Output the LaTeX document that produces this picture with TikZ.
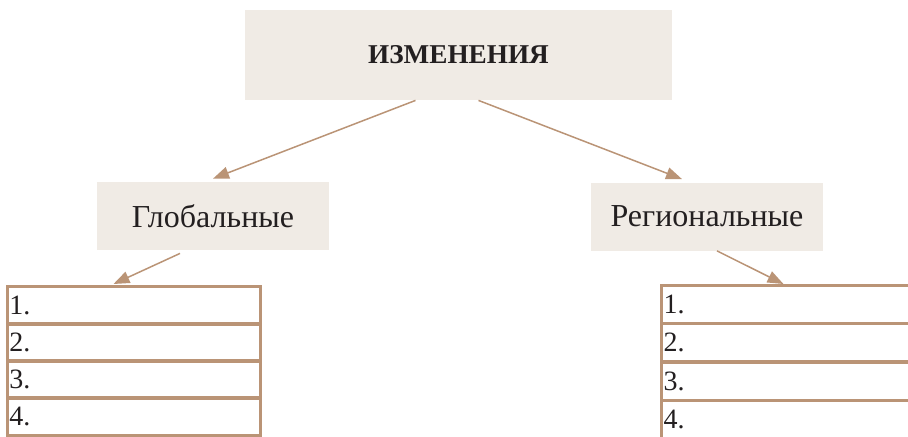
\documentclass[tikz,border=0pt]{standalone}
\usepackage{fontspec}
\setmainfont{Liberation Serif}
\usepackage{tikz}
\usetikzlibrary{arrows.meta,calc}
\usepackage{xcolor}
\definecolor{boxbeige}{RGB}{240,235,229}
\definecolor{linebrown}{RGB}{186,148,118}
\definecolor{textblack}{RGB}{35,31,32}

\begin{document}
\begin{tikzpicture}[
  x=0.5pt, y=-0.5pt,
  topbox/.style={rectangle, fill=boxbeige, minimum width=213.5pt, minimum height=45pt, inner sep=0pt, text=textblack, font=\fontsize{13.6}{15}\selectfont\bfseries},
  sidebox/.style={rectangle, fill=boxbeige, minimum width=116pt, minimum height=34pt, inner sep=0pt, text=textblack, font=\fontsize{16}{19}\selectfont},
  row/.style={rectangle, draw=linebrown, line width=1.5pt, minimum width=126.5pt, minimum height=19pt, inner xsep=1pt, inner ysep=0pt, outer sep=0pt, text width=124pt, align=left, text=textblack, font=\fontsize{14}{16}\selectfont},
  arr/.style={-{Triangle[length=8pt,width=6pt]}, draw=linebrown, line width=0.75pt}
]
\useasboundingbox (0,0) rectangle (908,436);

\node[topbox] (top) at (458.5,55) {ИЗМЕНЕНИЯ};
\node[sidebox] (glob) at (213,216) {Глобальные};
\node[sidebox] (reg) at (707,216.5) {Региональные};

% numbered lists
\foreach \i in {1,...,4} {
  \node[row, anchor=north west] (g\i) at (7,{286+(\i-1)*37.3}) {\i.};
  \node[row, anchor=north west] (r\i) at (661,{285+(\i-1)*38.6}) {\i.};
}

\draw[arr] ($(top.south)+(-43,0)$) -- ($(glob.north)+(0,-3)$);
\draw[arr] ($(top.south)+(20,0)$) -- ($(reg.north)+(-25,-3)$);
\draw[arr] ($(glob.south)+(-33,3)$) -- ($(g1.north)+(-20,-2)$);
\draw[arr] ($(reg.south)+(10,0)$) -- ($(r1.north)+(-4,-1)$);
\end{tikzpicture}
\end{document}
